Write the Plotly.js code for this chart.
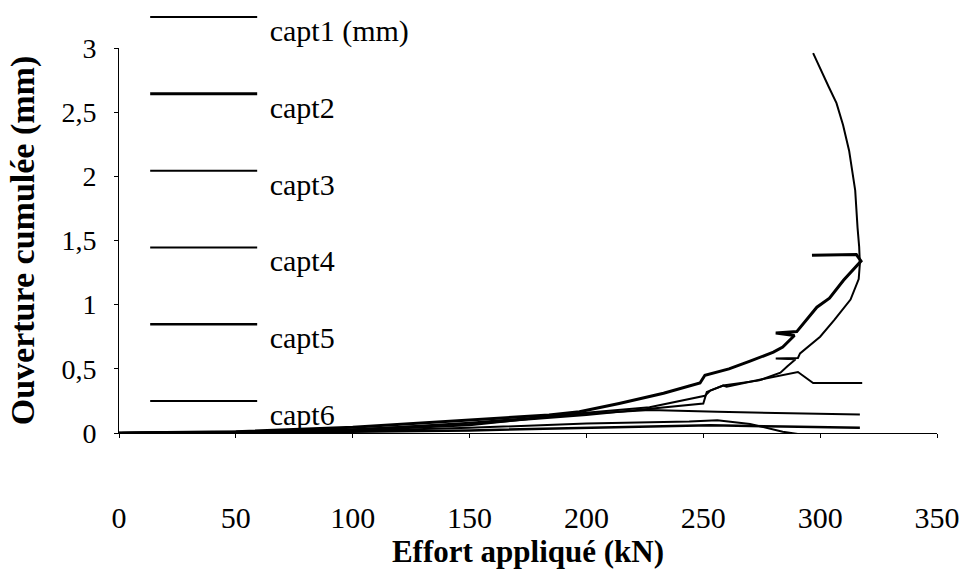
<!DOCTYPE html>
<html>
<head>
<meta charset="utf-8">
<script src="https://cdn.plot.ly/plotly-3.0.1.min.js"></script>
<style>html,body{margin:0;padding:0;background:#fff;}#chart{width:966px;height:569px;}</style>
</head>
<body>
<div id="chart"></div>
<script>
// Series names
const seriesNames = ["capt1 (mm)", "capt2", "capt3", "capt4", "capt5", "capt6"];

// Effort appliqué (kN) / Ouverture cumulée (mm) for each sensor
const capt1X = [0, 50, 100, 150, 200, 233, 250, 251.5, 258.5, 274, 283, 286, 289.5, 281, 290.5, 291.4, 300, 306, 313, 316.5, 317, 316.7, 316, 315, 312.4, 309.8, 307, 303.6, 301, 297];
const capt1Y = [0, 0.01, 0.03, 0.07, 0.14, 0.2, 0.23, 0.32, 0.37, 0.41, 0.47, 0.52, 0.575, 0.58, 0.585, 0.62, 0.75, 0.88, 1.04, 1.2, 1.32, 1.45, 1.6, 1.89, 2.2, 2.4, 2.57, 2.7, 2.8, 2.96];

const capt2X = [0, 50, 100, 150, 184, 197, 214, 233, 248.6, 250.7, 261, 270, 280, 284, 289, 281, 290, 298.6, 304, 310, 314.5, 317.5, 315.5, 296.5];
const capt2Y = [0, 0.01, 0.045, 0.1, 0.14, 0.165, 0.23, 0.31, 0.39, 0.45, 0.5, 0.56, 0.63, 0.67, 0.76, 0.78, 0.79, 0.98, 1.05, 1.19, 1.28, 1.34, 1.39, 1.385];

const capt3X = [0, 50, 100, 150, 198.6, 227, 250.7, 253, 258.5, 260, 270, 281.5, 290.5, 297, 318];
const capt3Y = [0, 0.005, 0.02, 0.06, 0.155, 0.2, 0.29, 0.33, 0.37, 0.36, 0.4, 0.44, 0.475, 0.39, 0.39];

const capt4X = [0, 50, 100, 150, 200, 227, 256, 283, 317];
const capt4Y = [0, 0.008, 0.025, 0.08, 0.15, 0.18, 0.165, 0.155, 0.145];

const capt5X = [0, 50, 100, 150, 200, 253, 284, 300, 317];
const capt5Y = [0, 0.003, 0.01, 0.02, 0.04, 0.06, 0.05, 0.045, 0.04];

const capt6X = [0, 50, 100, 150, 200, 244, 256, 270, 284, 298.6, 304];
const capt6Y = [0, 0.005, 0.015, 0.04, 0.075, 0.09, 0.1, 0.07, 0.01, -0.03, -0.05];

const xTickVals = [0, 50, 100, 150, 200, 250, 300, 350];
const yTickVals = [0, 0.5, 1, 1.5, 2, 2.5, 3];

const xs = [capt1X, capt2X, capt3X, capt4X, capt5X, capt6X];
const ys = [capt1Y, capt2Y, capt3Y, capt4Y, capt5Y, capt6Y];
const widths = [2, 3, 2, 2, 2.5, 2];

const traces = seriesNames.map((n, i) => ({
  x: xs[i], y: ys[i], type: 'scatter', mode: 'lines',
  name: '<br><span style="font-size:30px">\u00A0' + n + '</span>',
  legendgroup: 'g' + i,
  line: {color: '#000', width: widths[i], shape: 'linear'},
  hoverinfo: 'x+y'
}));

const font = "'Liberation Serif', 'Times New Roman', Times, serif";
const layout = {
  width: 966, height: 569,
  margin: {l: 119, r: 29, t: 48, b: 136, autoexpand: false},
  paper_bgcolor: '#fff', plot_bgcolor: '#fff',
  separators: ', ',
  font: {family: font, color: '#000', size: 26},
  showlegend: true,
  legend: {
    x: 0.032, xanchor: 'left', y: 1.175, yanchor: 'top',
    font: {family: font, size: 23, color: '#000'},
    itemwidth: 107, tracegroupgap: 14, valign: 'middle',
    bgcolor: 'rgba(0,0,0,0)', traceorder: 'grouped', maxheight: 2000
  },
  xaxis: {
    range: [0, 350], tickvals: xTickVals, ticks: 'outside', ticklen: 4, tickcolor: '#000',
    showline: true, linecolor: '#000', linewidth: 1, showgrid: false, zeroline: false,
    tickfont: {family: font, size: 30, color: '#000'}, ticklabelstandoff: 54,
    title: {text: '<b>Effort appliqué (kN)</b>', font: {family: font, size: 31, color: '#000'}, standoff: 2}
  },
  yaxis: {
    range: [0, 3], tickvals: yTickVals, ticks: 'outside', ticklen: 4, tickcolor: '#000',
    showline: true, linecolor: '#000', linewidth: 1, showgrid: false, zeroline: false,
    tickfont: {family: font, size: 28, color: '#000'}, ticklabelstandoff: 12,
    title: {text: '<b>Ouverture cumulée (mm)</b>', font: {family: font, size: 34, color: '#000'}, standoff: 16}
  }
};

Plotly.newPlot('chart', traces, layout, {displayModeBar: false, staticPlot: true});
</script>
</body>
</html>
